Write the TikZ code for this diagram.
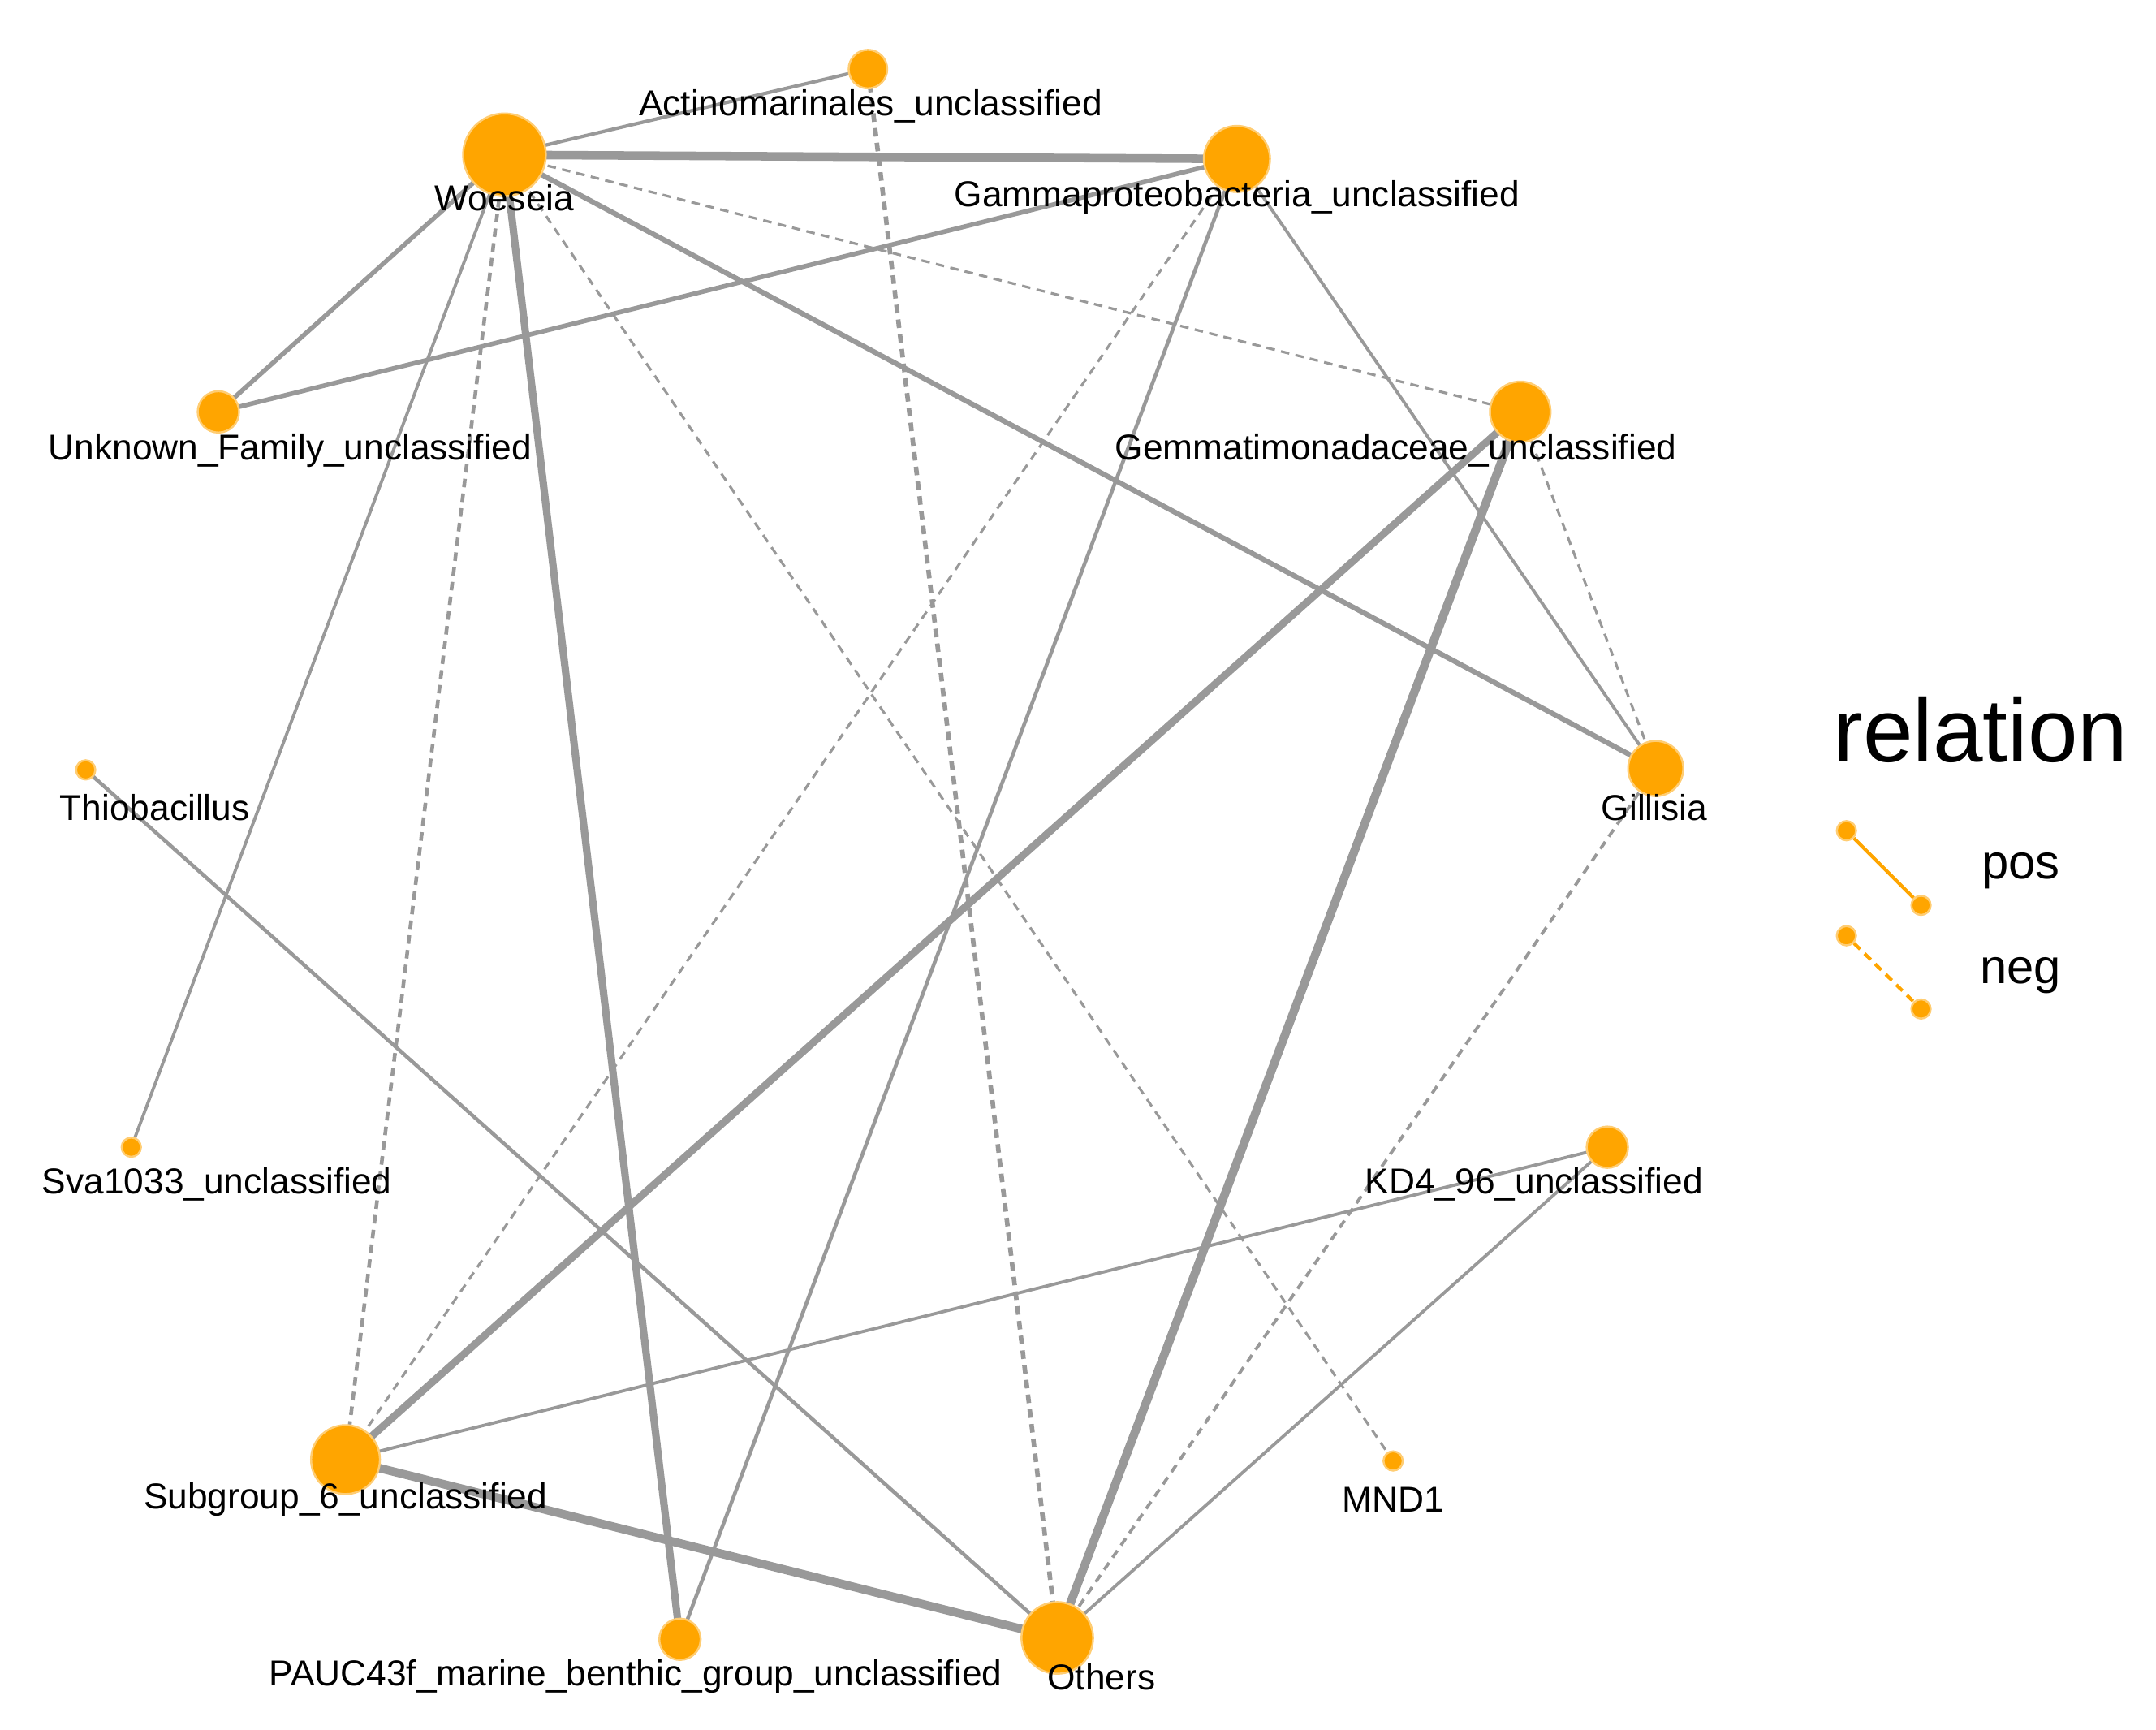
\documentclass[tikz,border=0pt]{standalone}
\usepackage{fontspec}
\setmainfont{Liberation Sans}
\usetikzlibrary{backgrounds}
\begin{document}
\begin{tikzpicture}[x=0.017026cm,y=-0.017026cm,
 v/.style={circle,fill=orange,draw=orange!55!white,line width=0.7pt,inner sep=0pt,minimum size=#1*0.483pt},
 lab/.style={font=\fontsize{12.6}{14}\selectfont,inner sep=0pt},
 e/.style={draw=black!40,line width=#1},
 e/.default=1pt,
 d/.style={e=#1,dash pattern=on 3pt off 2.2pt},
 d/.default=1pt]
\definecolor{orange}{HTML}{FFA500}
\useasboundingbox (0,0) rectangle (1560,1251.6);
\node[v=28] (act) at (628,50) {};
\node[v=60] (woe) at (365,112) {};
\node[v=48] (gam) at (895,115) {};
\node[v=30] (unk) at (158,298) {};
\node[v=44] (gem) at (1100,298) {};
\node[v=14] (thi) at (62,557) {};
\node[v=40] (gil) at (1198,556) {};
\node[v=14] (sva) at (95,830) {};
\node[v=30] (kd4) at (1163,830) {};
\node[v=50] (sub) at (250,1056) {};
\node[v=14] (mnd) at (1008,1057) {};
\node[v=30] (pau) at (492,1186) {};
\node[v=52] (oth) at (765,1185) {};
\begin{pgfonlayer}{background}
\draw[e=3pt] (woe.center)--(gam.center);
\draw[e=1.2pt] (woe.center)--(act.center);
\draw[e=1.6pt] (woe.center)--(unk.center);
\draw[e=1.6pt] (gam.center)--(unk.center);
\draw[e=1.1pt] (woe.center)--(sva.center);
\draw[d=1.3pt] (woe.center)--(sub.center);
\draw[e=2.6pt] (woe.center)--(pau.center);
\draw[d=0.9pt] (woe.center)--(mnd.center);
\draw[d=0.9pt] (woe.center)--(gem.center);
\draw[e=1.8pt] (woe.center)--(gil.center);
\draw[d=1.6pt] (act.center)--(oth.center);
\draw[d=0.9pt] (gam.center)--(sub.center);
\draw[e=1.3pt] (gam.center)--(pau.center);
\draw[e=1.1pt] (gam.center)--(gil.center);
\draw[e=2.6pt] (gem.center)--(sub.center);
\draw[e=3pt] (gem.center)--(oth.center);
\draw[d=0.9pt] (gem.center)--(gil.center);
\draw[d=1.1pt] (gil.center)--(oth.center);
\draw[e=1.3pt] (thi.center)--(oth.center);
\draw[e=1.1pt] (kd4.center)--(sub.center);
\draw[e=1.1pt] (kd4.center)--(oth.center);
\draw[e=3pt] (sub.center)--(oth.center);
\end{pgfonlayer}
\node[lab] (lact) at (630,77) {Actinomarinales\_unclassified};
\node[lab] (lwoe) at (365,143) {Woeseia};
\node[lab] (lgam) at (895,143) {Gammaproteobacteria\_unclassified};
\node[lab] (lunk) at (210,326) {Unknown\_Family\_unclassified};
\node[lab] (lgem) at (1010,326) {Gemmatimonadaceae\_unclassified};
\node[lab] (lthi) at (112,584) {Thiobacillus};
\node[lab] (lgil) at (1197,584) {Gillisia};
\node[lab] (lsva) at (157,857) {Sva1033\_unclassified};
\node[lab] (lkd4) at (1110,857) {KD4\_96\_unclassified};
\node[lab] (lsub) at (250,1085) {Subgroup\_6\_unclassified};
\node[lab] (lmnd) at (1008,1085) {MND1};
\node[lab] (lpau) at (460,1213) {PAUC43f\_marine\_benthic\_group\_unclassified};
\node[lab] (loth) at (797,1213) {Others};
\node[inner sep=0pt,font=\fontsize{31.5}{34}\selectfont] (rel) at (1433,528) {relation};
\node[v=14] (p1) at (1336,601) {};
\node[v=14] (p2) at (1390,655) {};
\draw[orange,line width=1.2pt] (p1)--(p2);
\node[v=14] (n1) at (1336,677) {};
\node[v=14] (n2) at (1390,730) {};
\draw[orange,line width=1.2pt,dash pattern=on 3pt off 2.2pt] (n1)--(n2);
\node[inner sep=0pt,font=\fontsize{17}{19}\selectfont] (lpos) at (1462,630) {pos};
\node[inner sep=0pt,font=\fontsize{17}{19}\selectfont] (lneg) at (1462,706) {neg};
\end{tikzpicture}
\end{document}
